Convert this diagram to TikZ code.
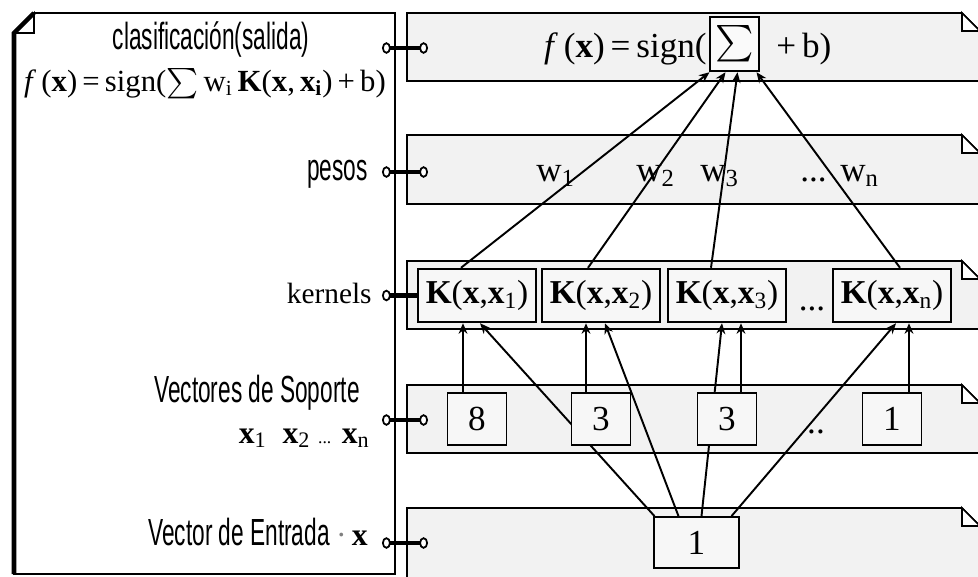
\documentclass[tikz,border=0pt]{standalone}
\usepackage{exscale}
\usepackage{fontspec}
\setmainfont{Liberation Serif}
\newfontfamily\narrowfont[FakeStretch=0.6]{Liberation Sans}
\usetikzlibrary{positioning,arrows.meta,calc}
\pgfdeclarelayer{back}
\pgfdeclarelayer{mid}
\pgfsetlayers{back,mid,main}

\begin{document}
\begin{tikzpicture}[
    x=0.02cm, y=-0.02cm,
    band/.style={draw, line width=1pt, fill=gray!10},
    fold/.style={draw, line width=1pt, fill=white},
    kbox/.style={rectangle, draw, line width=1.4pt, fill=gray!6, minimum width=2.36cm, minimum height=1.06cm, inner sep=0pt, font=\fontsize{19}{22}\selectfont},
    vbox/.style={rectangle, draw, line width=1pt, fill=gray!6, minimum width=1.18cm, minimum height=1.04cm, inner sep=0pt, font=\fontsize{20}{22}\selectfont},
    sumbox/.style={rectangle, draw, line width=1.4pt, fill=gray!4, minimum width=0.98cm, minimum height=1.08cm, inner sep=0pt, font=\fontsize{21}{22}\selectfont},
    txt/.style={inner sep=0pt, font=\fontsize{20}{22}\selectfont},
    lbl/.style={inner sep=0pt, font=\narrowfont\fontsize{21.5}{24}\selectfont},
    arrow/.style={-{Stealth[length=6pt,width=5pt]}, line width=1.1pt},
    pin/.style={line width=2.3pt, {Circle[fill=white,line width=1pt,length=5pt,width=6.5pt]}-{Circle[fill=white,line width=1pt,length=5pt,width=6.5pt]}},
    pinend/.style={line width=2.3pt, {Circle[fill=white,line width=1pt,length=5pt,width=6.5pt]}-}
]
\useasboundingbox (0,0) rectangle (978,576);

% panels
\begin{pgfonlayer}{back}
\draw[fill=white, line width=1pt] (14,33) -- (34,13) -- (395,13) -- (395,574) -- (14,574) -- cycle;
\draw[fold] (34,13) -- (34,33) -- (14,33) -- cycle;
\draw[line width=2.6pt] (14,574) -- (14,33) -- (34,13);
\foreach \t/\b in {13/81, 135/204, 261/329, 385/453, 508/600} {
    \draw[band] (407,\t) -- (962,\t) -- (992,\t+30) -- (992,\b) -- (407,\b) -- cycle;
    \draw[fold] (962,\t) -- (962,\t+18) -- (980,\t+18) -- cycle;
}
\end{pgfonlayer}

% left labels
\node[lbl, anchor=base] (lout) at (211,49) {clasificación(salida)};
\node[txt, font=\fontsize{17.5}{20}\selectfont, anchor=base] (lfx) at (205,91) {\textit{f}\,(\textbf{x})\,=\,sign($\sum$\,w\textsubscript{i}\,\textbf{K}(\textbf{x},\,\textbf{x}\textsubscript{\textbf{i}})\,+\,b)};
\node[lbl, anchor=base east] (lw) at (368,180) {pesos};
\node[txt, font=\fontsize{16.7}{18}\selectfont, anchor=base east] (lk) at (372,303) {kernels};
\node[lbl, anchor=base east] (lsv) at (360,402) {Vectores de Soporte};
\node[txt, font=\fontsize{18}{20}\selectfont, anchor=base east] (lxs) at (370,443) {\textbf{x}\textsubscript{1}\enspace\textbf{x}\textsubscript{2} {\fontsize{10}{12}\selectfont...} \textbf{x}\textsubscript{n}};
\node[lbl, anchor=base east] (lin) at (368,545) {Vector de Entrada {\rmfamily\fontsize{18}{20}\selectfont\textcolor{gray}{·}\,\textbf{x}}};

% output
\node[sumbox] (sigma) at (734.5,44) {$\sum$};
\node[txt, anchor=base east] (fout) at (707,57) {\textit{f}\,(\textbf{x})\,=\,sign(};
\node[txt, anchor=base west] (bout) at (776,57) {+\,b)};

% weights
\node[txt, anchor=base west] (w1) at (536,181) {w\textsubscript{1}};
\node[txt, anchor=base west] (w2) at (636,181) {w\textsubscript{2}};
\node[txt, anchor=base west] (w3) at (700,181) {w\textsubscript{3}};
\node[txt, anchor=base west] (wd) at (800,181) {...};
\node[txt, anchor=base west] (wn) at (840,181) {w\textsubscript{n}};

% kernels
\node[kbox] (k1) at (477,295.5) {\textbf{K}(\textbf{x},\textbf{x}\textsubscript{1})};
\node[kbox] (k2) at (601,295.5) {\textbf{K}(\textbf{x},\textbf{x}\textsubscript{2})};
\node[kbox] (k3) at (727,295.5) {\textbf{K}(\textbf{x},\textbf{x}\textsubscript{3})};
\node[txt, anchor=base] (kd) at (812,310) {...};
\node[kbox] (kn) at (892,295.5) {\textbf{K}(\textbf{x},\textbf{x}\textsubscript{n})};

% support vectors
\node[vbox] (v1) at (477,419) {8};
\node[vbox] (v2) at (601,419) {3};
\node[vbox] (v3) at (727,419) {3};
\node[txt, anchor=base] (vd) at (816,433) {..};
\node[vbox] (vn) at (892,419) {1};

% input
\node[vbox, minimum width=1.7cm, minimum height=1.02cm] (inp) at (696.5,542.5) {1};

\foreach \i/\y in {1/48, 2/172, 3/295.5, 4/420, 5/543} {
    \coordinate (pl\i) at (382,\y);
    \coordinate (pr\i) at (428,\y);
}

\begin{pgfonlayer}{mid}
\draw[pin] (pl1) -- (pr1);
\draw[pin] (pl2) -- (pr2);
\draw[pinend] (pl3) -- (k1.west);
\draw[pin] (pl4) -- (pr4);
\draw[pin] (pl5) -- (pr5);

\draw[arrow] ($(k1.north)+(-16,0)$) -- ($(sigma.south)+(-25,0)$);
\draw[arrow] ($(k2.north)+(-13,0)$) -- ($(sigma.south)+(-9,0)$);
\draw[arrow] ($(k3.north)+(-16,0)$) -- ($(sigma.south)+(3,0)$);
\draw[arrow] ($(kn.north)+(8,0)$) -- ($(sigma.south)+(22,0)$);

\draw[arrow] ($(v1.north)+(-14,0)$) -- ($(k1.south)+(-14,0)$);
\draw[arrow] ($(v2.north)+(-15,0)$) -- ($(k2.south)+(-15,0)$);
\draw[arrow] ($(v3.north)+(14,0)$) -- ($(k3.south)+(14,0)$);
\draw[arrow] ($(vn.north)+(17,0)$) -- ($(kn.south)+(17,0)$);

\draw[arrow] ($(inp.north)+(-42,0)$) -- ($(k1.south)+(3,0)$);
\draw[arrow] ($(inp.north)+(-18,0)$) -- ($(k2.south)+(4,0)$);
\draw[arrow] ($(inp.north)+(5,0)$) -- ($(k3.south)+(-5,0)$);
\draw[arrow] ($(inp.north)+(35,0)$) -- ($(kn.south)+(4,0)$);
\end{pgfonlayer}

\end{tikzpicture}
\end{document}
